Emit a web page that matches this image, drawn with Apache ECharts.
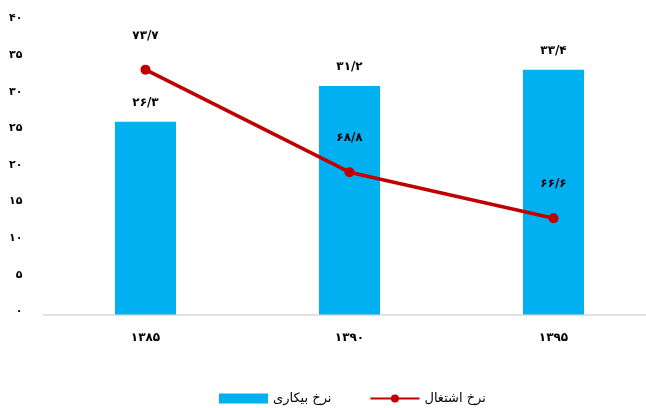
<!DOCTYPE html>
<html>
<head>
<meta charset="utf-8">
<script src="https://cdn.jsdelivr.net/npm/echarts@6/dist/echarts.min.js"></script>
<style>
html,body{margin:0;padding:0;background:#fff;}
#chart{width:646px;height:408px;}
</style>
</head>
<body>
<div id="chart"></div>
<script>
const categories = [1385, 1390, 1395];
const unemployment = [26.3, 31.2, 33.4];
const employment = [73.7, 68.8, 66.6];
const seriesNames = ['نرخ بیکاری', 'نرخ اشتغال'];

const faDigits = '۰۱۲۳۴۵۶۷۸۹';
function toFa(v) {
  return String(v).replace('.', '/').replace(/\d/g, d => faDigits[+d]);
}
const FONT = 'DejaVu Sans';

const chart = echarts.init(document.getElementById('chart'));
chart.setOption({
  animation: false,
  textStyle: { fontFamily: FONT },
  grid: { left: 43.5, right: -9.5, top: 21.5, bottom: 93.5, containLabel: false, outerBoundsMode: 'none' },
  legend: {
    left: 219, top: 392, padding: 0,
    itemWidth: 49, itemHeight: 10, itemGap: 38,
    textStyle: { fontFamily: FONT, fontSize: 13, color: '#000' },
    data: [{ name: seriesNames[0], icon: 'rect' }, { name: seriesNames[1] }]
  },
  xAxis: {
    type: 'category',
    data: categories,
    axisLine: { lineStyle: { color: '#d9d9d9', width: 1.5 } },
    axisTick: { show: false },
    axisLabel: { formatter: v => toFa(v), fontFamily: FONT, fontSize: 12, fontWeight: 'bold', color: '#000', margin: 17 }
  },
  yAxis: [{
    type: 'value', min: 0, max: 40, interval: 5,
    axisLine: { show: false }, axisTick: { show: false }, splitLine: { show: false },
    axisLabel: {
      formatter: v => '{a|' + toFa(v) + '}', margin: 21,
      rich: { a: { fontFamily: FONT, fontSize: 11, fontWeight: 'bold', color: '#000', padding: [0, 0, 6, 0] } }
    }
  }, {
    type: 'value', min: 62, max: 76, show: false,
    splitLine: { show: false }
  }],
  series: [{
    name: seriesNames[0],
    type: 'bar',
    data: unemployment,
    barWidth: 61,
    itemStyle: { color: '#00B0F0' },
    label: { show: true, position: 'top', distance: 13, formatter: p => toFa(p.value), fontFamily: FONT, fontSize: 12, fontWeight: 'bold', color: '#000' }
  }, {
    name: seriesNames[1],
    type: 'line',
    yAxisIndex: 1,
    data: employment,
    symbol: 'circle', symbolSize: 10,
    lineStyle: { color: '#C00000', width: 3.5 },
    itemStyle: { color: '#C00000' },
    label: { show: true, position: 'top', distance: 23, formatter: p => toFa(p.value), fontFamily: FONT, fontSize: 12, fontWeight: 'bold', color: '#000' },
    z: 3
  }]
});
</script>
</body>
</html>
